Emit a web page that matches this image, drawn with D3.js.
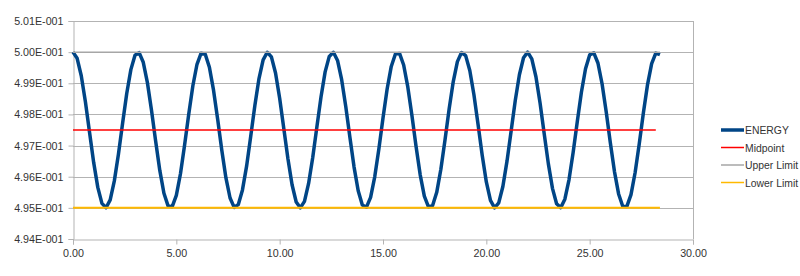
<!DOCTYPE html>
<html>
<head>
<meta charset="utf-8">
<script src="https://cdn.jsdelivr.net/npm/d3@7"></script>
<style>
  body { margin: 0; background: #fff; }
  #chart text { font-family: "Liberation Sans", Arial, sans-serif; font-size: 10.7px; fill: #333; }
</style>
</head>
<body>
<div id="chart"></div>
<script>
// time (x) values of the ENERGY series
var time = [0,0.2,0.4,0.6,0.8,1,1.2,1.4,1.6,1.8,2,2.2,2.4,2.6,2.8,3,3.2,3.4,3.6,3.8,
  4,4.2,4.4,4.6,4.8,5,5.2,5.4,5.6,5.8,6,6.2,6.4,6.6,6.8,7,7.2,7.4,7.6,7.8,
  8,8.2,8.4,8.6,8.8,9,9.2,9.4,9.6,9.8,10,10.2,10.4,10.6,10.8,11,11.2,11.4,11.6,11.8,
  12,12.2,12.4,12.6,12.8,13,13.2,13.4,13.6,13.8,14,14.2,14.4,14.6,14.8,15,15.2,15.4,15.6,15.8,
  16,16.2,16.4,16.6,16.8,17,17.2,17.4,17.6,17.8,18,18.2,18.4,18.6,18.8,19,19.2,19.4,19.6,19.8,
  20,20.2,20.4,20.6,20.8,21,21.2,21.4,21.6,21.8,22,22.2,22.4,22.6,22.8,23,23.2,23.4,23.6,23.8,
  24,24.2,24.4,24.6,24.8,25,25.2,25.4,25.6,25.8,26,26.2,26.4,26.6,26.8,27,27.2,27.4,27.6,27.8,
  28,28.2,28.4];

var energy = [0.500000,0.499803,0.499242,0.498406,0.497427,0.496460,0.495657,0.495144,0.495004,0.495258,
  0.495866,0.496732,0.497719,0.498671,0.499439,0.499900,0.499983,0.499674,0.499021,0.498128,
  0.497136,0.496202,0.495471,0.495063,0.495038,0.495402,0.496094,0.497015,0.498009,0.498922,
  0.499610,0.499965,0.499932,0.499515,0.498780,0.497842,0.496850,0.495962,0.495317,0.495014,
  0.495106,0.495576,0.496339,0.497301,0.498290,0.499151,0.499751,0.499997,0.499848,0.499329,
  0.498520,0.497551,0.496574,0.495743,0.495189,0.495000,0.495210,0.495783,0.496617,0.497595,
  0.498560,0.499366,0.499863,0.499994,0.499732,0.499117,0.498247,0.497259,0.496309,0.495547,
  0.495094,0.495022,0.495338,0.495997,0.496893,0.497886,0.498817,0.499541,0.499942,0.499958,
  0.499586,0.498884,0.497964,0.496971,0.496061,0.495379,0.495031,0.495073,0.495499,0.496240,
  0.497180,0.498171,0.499056,0.499695,0.499988,0.499888,0.499411,0.498632,0.497675,0.496690,
  0.495833,0.495239,0.495002,0.495160,0.495687,0.496500,0.497471,0.498447,0.499273,0.499820,
  0.500000,0.499785,0.499210,0.498365,0.497383,0.496420,0.495627,0.495130,0.495007,0.495278,
  0.495900,0.496774,0.497763,0.498710,0.499467,0.499912,0.499977,0.499651,0.498986,0.498085,
  0.497093,0.496164,0.495447,0.495053,0.495046,0.495427,0.496134,0.497058,0.498051,0.498957,
  0.499633,0.499972,0.499921];

// reference lines: [start, end] in time and their constant values
var midpointTime = [0, 28.2];
var midpointValue = [0.4975, 0.4975];
var upperTime = [0, 28.4];
var upperValue = [0.5, 0.5];
var lowerTime = [0, 28.4];
var lowerValue = [0.495, 0.495];

var seriesNames = ["ENERGY", "Midpoint", "Upper Limit", "Lower Limit"];
var seriesColors = ["#004586", "#ff0000", "#a6a6a6", "#ffb900"];
var seriesWidths = [3.5, 1.5, 1.5, 2];

var yTicks = [0.494, 0.495, 0.496, 0.497, 0.498, 0.499, 0.500, 0.501];
var yTickLabels = ["4.94E-001","4.95E-001","4.96E-001","4.97E-001","4.98E-001","4.99E-001","5.00E-001","5.01E-001"];
var xTicks = [0, 5, 10, 15, 20, 25, 30];
var xTickLabels = ["0.00","5.00","10.00","15.00","20.00","25.00","30.00"];

function init(){
    var w = 800, h = 276;
    var left = 73, right = 693, top = 21, bottom = 239;

    var svg = d3.select("#chart").append("svg")
        .attr("width", w)
        .attr("height", h);

    var xScale = d3.scaleLinear().domain([0, 30]).range([left, right]);
    var yScale = d3.scaleLinear().domain([0.494, 0.501]).range([bottom, top]);

    // gridlines
    svg.append("g").selectAll("line")
        .data(yTicks.slice(1))
        .enter().append("line")
        .attr("x1", left).attr("x2", right)
        .attr("y1", function(d){ return Math.round(yScale(d)) + 0.5; })
        .attr("y2", function(d){ return Math.round(yScale(d)) + 0.5; })
        .attr("stroke", "#b3b3b3");

    // right wall
    svg.append("line")
        .attr("x1", right + 0.5).attr("x2", right + 0.5)
        .attr("y1", top).attr("y2", bottom)
        .attr("stroke", "#b3b3b3");

    var yAxis = d3.axisLeft(yScale)
        .tickValues(yTicks)
        .tickFormat(function(d, i){ return yTickLabels[i]; })
        .tickSize(5).tickPadding(5);
    var gy = svg.append("g")
        .attr("transform", "translate(" + (left + 0.5) + ",0)")
        .call(yAxis);

    var xAxis = d3.axisBottom(xScale)
        .tickValues(xTicks)
        .tickFormat(function(d, i){ return xTickLabels[i]; })
        .tickSize(5).tickPadding(5);
    var gx = svg.append("g")
        .attr("transform", "translate(0," + (bottom + 0.5) + ")")
        .call(xAxis);

    [gx, gy].forEach(function(g){
        g.select(".domain").attr("stroke", "#b3b3b3");
        g.selectAll(".tick line").attr("stroke", "#b3b3b3");
        g.selectAll(".tick text").attr("fill", "#333").style("font-size", "10.7px");
    });

    var line = d3.line()
        .x(function(d){ return xScale(d[0]); })
        .y(function(d){ return yScale(d[1]); });

    var series = [
        d3.zip(time, energy),
        d3.zip(midpointTime, midpointValue),
        d3.zip(upperTime, upperValue),
        d3.zip(lowerTime, lowerValue)
    ];

    series.forEach(function(s, i){
        svg.append("path")
            .datum(s)
            .attr("d", line)
            .attr("fill", "none")
            .attr("stroke", seriesColors[i])
            .attr("stroke-width", seriesWidths[i])
            .attr("stroke-linejoin", "round");
    });

    // legend
    var legend = svg.append("g").attr("transform", "translate(721,130)");
    seriesNames.forEach(function(name, i){
        var g = legend.append("g").attr("transform", "translate(0," + (i * 17.5) + ")");
        g.append("line")
            .attr("x1", 0).attr("x2", 23)
            .attr("y1", 0).attr("y2", 0)
            .attr("stroke", seriesColors[i])
            .attr("stroke-width", i === 0 ? 3.5 : 1.5);
        g.append("text")
            .attr("x", 24).attr("y", 4)
            .style("font-size", "10.4px")
            .text(name);
    });
}
window.onload = init;
</script>
</body>
</html>
